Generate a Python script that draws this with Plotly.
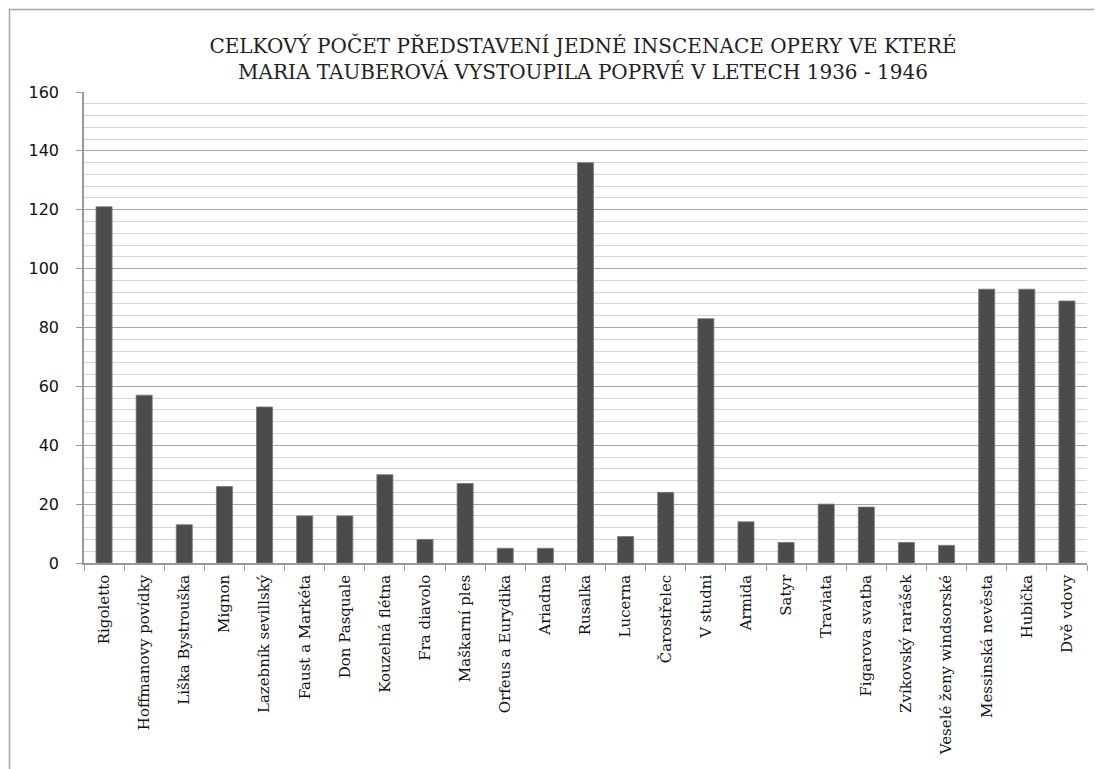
import plotly.graph_objects as go

categories = [
    "Rigoletto", "Hoffmanovy povídky", "Liška Bystrouška", "Mignon",
    "Lazebník sevillský", "Faust a Markéta", "Don Pasquale", "Kouzelná flétna",
    "Fra diavolo", "Maškarní ples", "Orfeus a Eurydika", "Ariadna", "Rusalka",
    "Lucerna", "Čarostřelec", "V studni", "Armida", "Satyr", "Traviata",
    "Figarova svatba", "Zvíkovský rarášek", "Veselé ženy windsorské",
    "Messinská nevěsta", "Hubička", "Dvě vdovy",
]
values = [121, 57, 13, 26, 53, 16, 16, 30, 8, 27, 5, 5, 136, 9, 24, 83, 14, 7,
          20, 19, 7, 6, 93, 93, 89]
y_ticks = [0, 20, 40, 60, 80, 100, 120, 140, 160]

title_text = ("CELKOVÝ POČET PŘEDSTAVENÍ JEDNÉ INSCENACE OPERY VE KTERÉ<br>"
              "MARIA TAUBEROVÁ VYSTOUPILA POPRVÉ V LETECH 1936 - 1946")

fig = go.Figure()
fig.add_trace(go.Bar(
    x=categories, y=values,
    marker=dict(color="#4b4b4b", line=dict(color="#777777", width=0.8)),
    width=0.4,
))

# page body has an 8px margin
W, H = 1094, 761
l, r, t, b = 76, 15, 84, 206
pw, ph = W - l - r, H - t - b

def px_x(x):
    return (x - l) / pw

def px_y(y):
    return (H - b - y) / ph

fig.add_shape(type="rect", xref="paper", yref="paper",
              x0=px_x(1.5), x1=px_x(1120), y0=px_y(790), y1=px_y(1.5),
              line=dict(color="#a6a6a6", width=1.5), fillcolor="rgba(0,0,0,0)",
              layer="below")

fig.update_layout(
    width=W, height=H,
    margin=dict(l=l, r=r, t=t, b=b, autoexpand=False),
    paper_bgcolor="white", plot_bgcolor="white",
    showlegend=False,
    bargap=0.6,
    title=dict(text=title_text, x=px_x(575), xref="paper", xanchor="center",
               y=1 - 45 / H, yanchor="middle",
               font=dict(family="DejaVu Serif", size=20, color="#222222")),
    xaxis=dict(
        type="category",
        tickangle=-90,
        ticks="outside", ticklen=6, tickcolor="#999999",
        tickson="boundaries",
        showline=True, linecolor="#999999", linewidth=1.5,
        showgrid=False,
        ticklabelstandoff=4,
        tickfont=dict(family="DejaVu Serif", size=15, color="#111111"),
    ),
    yaxis=dict(
        range=[0, 160],
        tickvals=y_ticks,
        ticks="outside", ticklen=6, tickcolor="#999999",
        showline=True, linecolor="#999999", linewidth=1.5,
        showgrid=True, gridcolor="#a6a6a6", gridwidth=1.2,
        minor=dict(dtick=4, showgrid=True, gridcolor="#d4d4d4", gridwidth=1.2,
                   ticks=""),
        zeroline=False,
        ticklabelstandoff=14,
        tickfont=dict(family="DejaVu Sans", size=16, color="#111111"),
    ),
)

fig.write_html("out.html")
